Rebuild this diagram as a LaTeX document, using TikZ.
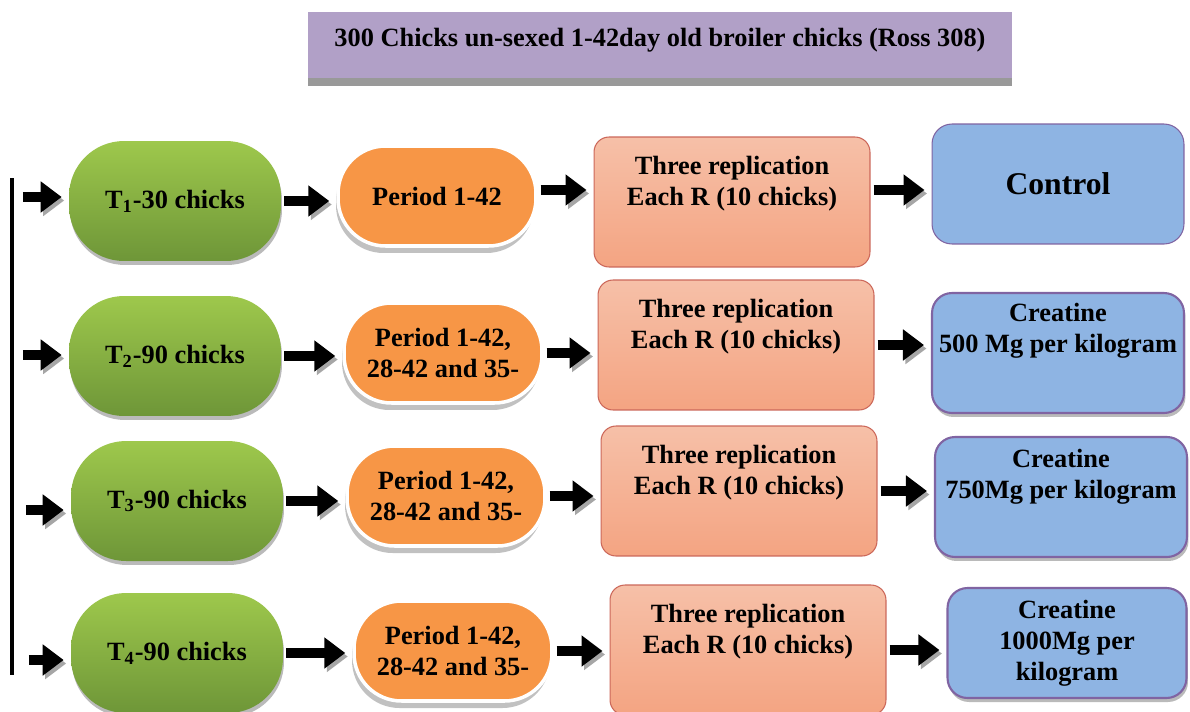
\documentclass[tikz,border=0pt]{standalone}
\usepackage{fontspec}
\setmainfont{Liberation Serif}
\usetikzlibrary{arrows.meta,positioning,shadows,calc}
\definecolor{titlepurple}{RGB}{177,160,199}
\definecolor{leafgreen}{RGB}{158,200,76}
\definecolor{darkgreen}{RGB}{110,150,56}
\definecolor{periodorange}{RGB}{247,150,70}
\definecolor{salmontop}{RGB}{246,192,168}
\definecolor{salmonbot}{RGB}{244,164,130}
\definecolor{salmonline}{RGB}{204,104,90}
\definecolor{doseblue}{RGB}{142,180,227}
\definecolor{doseline}{RGB}{128,100,162}
\newcommand{\upgap}[1]{\\[#1]\mbox{}}

\begin{document}
\begin{tikzpicture}[
    x=0.02cm, y=-0.02cm,
    font=\fontsize{15}{17.6}\selectfont\bfseries,
    titlebox/.style={fill=titlepurple, minimum width=14.08cm, minimum height=1.32cm, align=center,
        drop shadow={shadow xshift=0cm, shadow yshift=-0.16cm, fill=black!40, opacity=1}},
    group/.style={rounded corners=1.1cm, minimum width=4.24cm, minimum height=2.4cm,
        top color=leafgreen, bottom color=darkgreen,
        drop shadow={shadow xshift=0.02cm, shadow yshift=-0.08cm, fill=black!45, opacity=.6}},
    period/.style={rounded corners=0.95cm, minimum width=3.96cm, minimum height=2cm, align=center,
        fill=periodorange, draw=white, line width=2pt,
        drop shadow={shadow xshift=-0.04cm, shadow yshift=-0.14cm, fill=black!40, opacity=.6}},
    repl/.style={rounded corners=0.3cm, minimum width=5.52cm, minimum height=2.6cm, align=center,
        top color=salmontop, bottom color=salmonbot, draw=salmonline, line width=0.6pt},
    dose/.style={rounded corners=0.4cm, minimum width=5.04cm, minimum height=2.4cm, align=center,
        inner sep=2pt, fill=doseblue, draw=doseline, line width=0.6pt},
    doseshadow/.style={line width=1.2pt,
        drop shadow={shadow xshift=0.03cm, shadow yshift=-0.08cm, fill=black!45, opacity=.6}},
    blk/.style={line width=0.2cm, -{Triangle[length=0.42cm,width=0.6cm]},
        shorten <=0.06cm, shorten >=0.14cm,
        preaction={draw=black!35, transform canvas={xshift=0.05cm,yshift=-0.07cm}}}
]
    \useasboundingbox (0,0) rectangle (1190,711);
    \fill[white] (0,0) rectangle (1190,711);

    \node[titlebox] (title) at (660,45) {300 Chicks un-sexed 1-42day old broiler chicks (Ross 308)\upgap{-9pt}};

    % treatment groups
    \node[group] (t1) at (175,201) {T\textsubscript{1}-30 chicks};
    \node[group] (t2) at (175,356) {T\textsubscript{2}-90 chicks};
    \node[group] (t3) at (177,501) {T\textsubscript{3}-90 chicks};
    \node[group] (t4) at (177,653) {T\textsubscript{4}-90 chicks};

    % periods
    \node[period] (p1) at (437,196) {Period 1-42};
    \node[period] (p2) at (443,353) {Period 1-42,\\28-42 and 35-};
    \node[period] (p3) at (446,496) {Period 1-42,\\28-42 and 35-};
    \node[period] (p4) at (453,651) {Period 1-42,\\28-42 and 35-};

    % replications
    \node[repl] (r1) at (732,202) {Three replication\\Each R (10 chicks)\upgap{6pt}};
    \node[repl] (r2) at (736,345) {Three replication\\Each R (10 chicks)\upgap{6pt}};
    \node[repl] (r3) at (739,491) {Three replication\\Each R (10 chicks)\upgap{6pt}};
    \node[repl] (r4) at (748,650) {Three replication\\Each R (10 chicks)\upgap{6pt}};

    % doses
    \node[dose, font=\fontsize{18}{21}\selectfont\bfseries] (c1) at (1058,184) {Control};
    \node[dose, doseshadow] (c2) at (1058,353) {Creatine\\500 Mg per kilogram\upgap{11pt}};
    \node[dose, doseshadow] (c3) at (1061,497) {Creatine\\750Mg per kilogram\upgap{9pt}};
    \node[dose, doseshadow, minimum width=4.78cm, minimum height=2.2cm] (c4) at (1067,643) {Creatine\\1000Mg per\\kilogram};

    % left bar
    \coordinate (top) at (12,178);
    \coordinate (bot) at (12,675);
    \draw[line width=0.08cm] (top) -- (bot);
    \coordinate (s1) at (20,197);
    \coordinate (s2) at (20,355);
    \coordinate (s3) at (23,510);
    \coordinate (s4) at (26,660);

    \draw[blk] (s1) -- (s1 -| t1.west);
    \draw[blk] (s2) -- (s2 -| t2.west);
    \draw[blk] (s3) -- (s3 -| t3.west);
    \draw[blk] (s4) -- (s4 -| t4.west);

    \draw[blk] (t1.east) -- (t1.east -| p1.west);
    \draw[blk] (t2.east) -- (t2.east -| p2.west);
    \draw[blk] (t3.east) -- (t3.east -| p3.west);
    \draw[blk] (t4.east) -- (t4.east -| p4.west);

    \draw[blk] ([yshift=0.12cm]p1.east) -- ([yshift=0.12cm]p1.east -| r1.west);
    \draw[blk] (p2.east) -- (p2.east -| r2.west);
    \draw[blk] (p3.east) -- (p3.east -| r3.west);
    \draw[blk] (p4.east) -- (p4.east -| r4.west);

    \draw[blk] ([yshift=0.24cm]r1.east) -- ([yshift=0.24cm]r1.east -| c1.west);
    \draw[blk] (r2.east) -- (r2.east -| c2.west);
    \draw[blk] (r3.east) -- (r3.east -| c3.west);
    \draw[blk] (r4.east) -- (r4.east -| c4.west);
\end{tikzpicture}
\end{document}
